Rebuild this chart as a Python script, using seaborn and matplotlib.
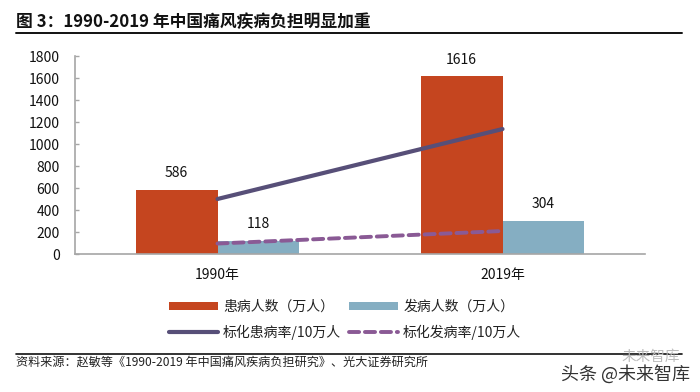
import matplotlib
matplotlib.use('Agg')
import matplotlib.pyplot as plt
import pandas as pd
import seaborn as sns

# ── Data ──────────────────────────────
YEARS = ['1990年', '2019年']
PATIENTS = [586, 1616]
NEW_CASES = [118, 304]
STD_PREVALENCE = [500, 1136]
STD_INCIDENCE = [95, 209]
Y_TICKS = [0, 200, 400, 600, 800, 1000, 1200, 1400, 1600, 1800]

NAME_PATIENTS = '患病人数（万人）'
NAME_NEW = '发病人数（万人）'
NAME_PREV = '标化患病率/10万人'
NAME_INC = '标化发病率/10万人'

TITLE = '图 3：1990-2019 年中国痛风疾病负担明显加重'
SOURCE = '资料来源：赵敏等《1990-2019 年中国痛风疾病负担研究》、光大证券研究所'

sns.set_theme(style='white')
plt.rcParams['font.family'] = ['Noto Sans CJK SC', 'DejaVu Sans']

bars = pd.DataFrame({
    'year': YEARS * 2,
    'value': PATIENTS + NEW_CASES,
    'series': [NAME_PATIENTS] * 2 + [NAME_NEW] * 2,
})

fig = plt.figure(figsize=(7, 3.92), dpi=100)
ax = fig.add_axes([75 / 700, 1 - 254 / 392, 570 / 700, 198 / 392])

# ── Bars ──────────────────────────────
sns.barplot(data=bars, x='year', y='value', hue='series',
            palette=['#C5451F', '#85AEC2'], width=0.575, gap=0,
            saturation=1, errorbar=None, linewidth=0, ax=ax)
for c in ax.containers:
    ax.bar_label(c, padding=7, fontsize=10, color='#111111')

# ── Lines ─────────────────────────────
sns.lineplot(x=YEARS, y=STD_PREVALENCE, color='#574F78', linewidth=3,
             label=NAME_PREV, ax=ax)
sns.lineplot(x=YEARS, y=STD_INCIDENCE, color='#8A5A95', linewidth=2.8,
             label=NAME_INC, ax=ax)

# ── Axes ──────────────────────────────
ax.set_xlim(-0.5, 1.5)
ax.set_ylim(0, 1800)
ax.set_yticks(Y_TICKS)
ax.set_xlabel('')
ax.set_ylabel('')
ax.tick_params(axis='y', direction='in', left=True, length=3, width=1,
               color='#A6A6A6', pad=11, labelsize=10, labelcolor='#111111')
ax.tick_params(axis='x', bottom=False, pad=4, labelsize=10,
               labelcolor='#111111')
sns.despine(ax=ax)
for side in ['left', 'bottom']:
    ax.spines[side].set_color('#A6A6A6')
    ax.spines[side].set_linewidth(1.2)

# ── Legend ────────────────────────────
handles, labels = ax.get_legend_handles_labels()
lookup = dict(zip(labels, handles))
order = [NAME_PATIENTS, NAME_PREV, NAME_NEW, NAME_INC]
lookup[NAME_INC].set_dashes([2.6, 1.5])
lookup[NAME_INC].set_dash_capstyle('round')
ax.legend([lookup[n] for n in order], order, ncol=2, frameon=False,
          fontsize=10, labelcolor='#222222', handlelength=3.5,
          handleheight=0.55, handletextpad=0.4, columnspacing=0.55,
          labelspacing=0.75, loc='center left',
          bbox_to_anchor=(169 / 700, 1 - 320 / 392),
          bbox_transform=fig.transFigure, borderpad=0, borderaxespad=0)

# ── Title, rules, source ──────────────
fig.text(16 / 700, 1 - 22 / 392, TITLE, fontsize=12.1, fontweight='bold',
         color='#111111', va='center', ha='left')
fig.add_artist(plt.Line2D([16 / 700, 682 / 700], [1 - 33 / 392] * 2,
                          color='#111111', linewidth=1.4))
fig.add_artist(plt.Line2D([16 / 700, 682 / 700], [1 - 354 / 392] * 2,
                          color='#111111', linewidth=1.2))
fig.text(16 / 700, 1 - 362 / 392, SOURCE, fontsize=8.7, color='#222222',
         va='center', ha='left')

# ── Watermark ─────────────────────────
fig.text(680 / 700, 1 - 357 / 392, '未来智库', fontsize=10.5, color='#BBBBBB',
         va='center', ha='right')
fig.text(690 / 700, 1 - 374 / 392, '头条 @未来智库', fontsize=13, color='#333333',
         va='center', ha='right')

fig.savefig('out.png', dpi=100, facecolor='white')
plt.close(fig)
